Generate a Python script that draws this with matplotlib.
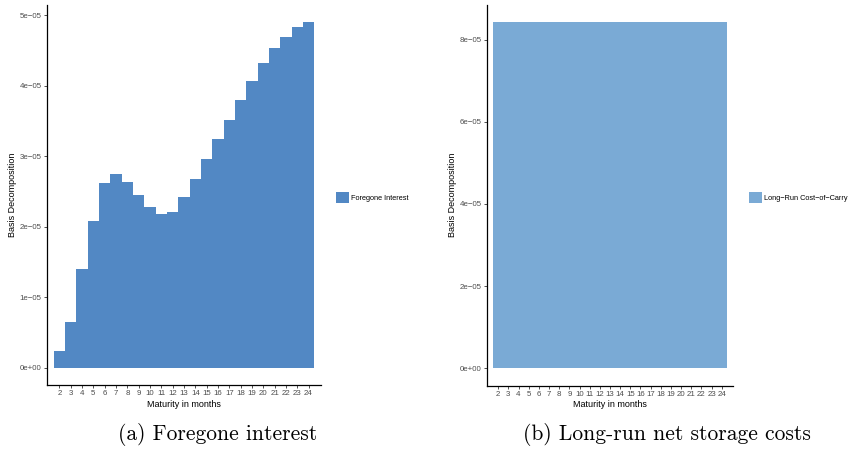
import matplotlib
matplotlib.use('Agg')
import matplotlib.pyplot as plt
from matplotlib.patches import Patch

# maturities in months
months = list(range(2, 25))

# foregone interest component
foregone = [2.4e-6, 6.5e-6, 1.40e-5, 2.08e-5, 2.62e-5, 2.75e-5, 2.63e-5,
            2.45e-5, 2.28e-5, 2.18e-5, 2.21e-5, 2.42e-5, 2.68e-5, 2.96e-5,
            3.24e-5, 3.51e-5, 3.80e-5, 4.07e-5, 4.32e-5, 4.53e-5, 4.69e-5,
            4.83e-5, 4.90e-5]

# long-run cost-of-carry (flat)
cost_of_carry = [8.42e-5] * len(months)

left_ticks = [0, 1e-5, 2e-5, 3e-5, 4e-5, 5e-5]
left_ticklabels = ['0e+00', '1e\u221205', '2e\u221205', '3e\u221205',
                   '4e\u221205', '5e\u221205']
right_ticks = [0, 2e-5, 4e-5, 6e-5, 8e-5]
right_ticklabels = ['0e+00', '2e\u221205', '4e\u221205', '6e\u221205',
                    '8e\u221205']

W, H = 849, 451
fig = plt.figure(figsize=(W / 100, H / 100), dpi=100)

SANS = 'Liberation Sans'


def panel(rect, values, color, ticks, ticklabels, legend_label, legend_xy):
    ax = fig.add_axes(rect)
    ax.bar(months, values, width=1.0, color=color, linewidth=0)
    top = max(values)
    ax.set_ylim(-0.05 * top, 1.05 * top)
    ax.set_xlim(months[0] - 1.1, months[-1] + 1.1)
    for s in ['top', 'right']:
        ax.spines[s].set_visible(False)
    for s in ['left', 'bottom']:
        ax.spines[s].set_color('black')
        ax.spines[s].set_linewidth(0.9)
    ax.set_xticks(months)
    ax.set_xticklabels([str(m) for m in months], fontsize=5.7,
                       family=SANS, color='#4D4D4D')
    ax.set_yticks(ticks)
    ax.set_yticklabels(ticklabels, fontsize=5.7, family=SANS,
                       color='#4D4D4D')
    ax.tick_params(length=2.2, width=0.6, color='#333333', pad=1.5)
    ax.set_xlabel('Maturity in months', fontsize=6.5, family=SANS,
                  labelpad=2)
    ax.set_ylabel('Basis Decomposition', fontsize=6.5, family=SANS,
                  labelpad=2)
    ax.legend(handles=[Patch(facecolor=color, edgecolor='none',
                             label=legend_label)],
              loc='center left', bbox_to_anchor=legend_xy,
              bbox_transform=fig.transFigure, frameon=False,
              prop={'family': SANS, 'size': 5.3},
              handlelength=1.75, handleheight=1.75, handletextpad=0.3,
              borderpad=0, borderaxespad=0)
    return ax


panel([47 / W, 1 - 385 / H, 274 / W, 380 / H], foregone, '#5288C4',
      left_ticks, left_ticklabels, 'Foregone Interest',
      (336 / W, 1 - 197.5 / H))
panel([487 / W, 1 - 385.5 / H, 246 / W, 380.5 / H], cost_of_carry,
      '#7AAAD5', right_ticks, right_ticklabels, 'Long\u2212Run Cost\u2212of\u2212Carry',
      (749 / W, 1 - 197.5 / H))

fig.text(218 / W, 1 - 435 / H, '(a) Foregone interest', family='cmr10',
         fontsize=15.5, ha='center', va='center')
fig.text(667 / W, 1 - 435 / H, '(b) Long-run net storage costs',
         family='cmr10', fontsize=15.5, ha='center', va='center')

fig.savefig('out.png', dpi=100)
